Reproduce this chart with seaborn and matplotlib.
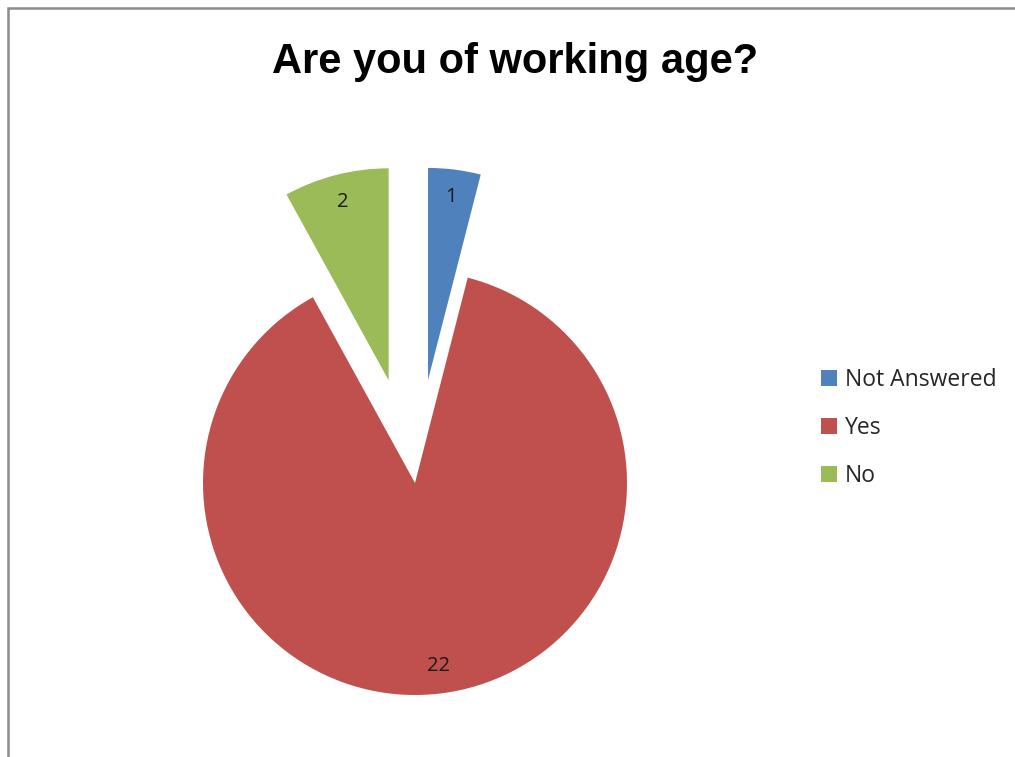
import matplotlib
matplotlib.use("Agg")
import matplotlib.pyplot as plt
from matplotlib.patches import Rectangle
import seaborn as sns

# ==========================================
# DATA
# ==========================================
categories = ["Not Answered", "Yes", "No"]
counts = [1, 22, 2]
slice_colors = ["#4F81BD", "#C0504D", "#9BBB59"]
explode = [0.49, 0.0, 0.50]
title = "Are you of working age?"

sns.set_theme(style="white")
plt.rcParams['font.family'] = ['Liberation Sans', 'DejaVu Sans']

fig = plt.figure(figsize=(10.15, 7.57), dpi=100)

# pie centre ~ (415, 483) px, radius ~ 212 px
R_PX = 212
LIM = 1.5
side = 2 * LIM * R_PX
cx, cy = 415, 483
ax = fig.add_axes([(cx - side / 2) / 1015, (757 - cy - side / 2) / 757, side / 1015, side / 757])

total = sum(counts)
wedges, texts, autotexts = ax.pie(
    counts, colors=slice_colors, explode=explode, startangle=90, counterclock=False,
    autopct=lambda p: f"{round(p * total / 100):d}", pctdistance=0.87,
    textprops={'fontsize': 14.5, 'color': '#1a1a1a', 'family': ['Open Sans', 'DejaVu Sans']},
    wedgeprops={'linewidth': 0})
ax.set_xlim(-LIM, LIM)
ax.set_ylim(-LIM, LIM)
ax.set_aspect('auto')
ax.axis('off')

fig.text(515 / 1015, 1 - 62 / 757, title, ha='center', va='center',
         fontsize=30, fontweight='bold', color='black')

leg = fig.legend(wedges, categories, loc='center left', bbox_to_anchor=(800 / 1015, 1 - 428 / 757),
                 frameon=False, handlelength=0.7, handleheight=0.7,
                 handletextpad=0.35, labelspacing=1.05,
                 prop={'family': ['Open Sans', 'DejaVu Sans'], 'size': 16.5})

# outer chart frame (grey, runs off right/bottom edges)
fig.patches.append(Rectangle((8 / 1015, -0.05), 1.2, 1 - 8 / 757 + 0.05, transform=fig.transFigure,
                             fill=False, edgecolor='#8c8c8c', linewidth=1.8))

plt.savefig("out.png", dpi=100)
plt.close()
